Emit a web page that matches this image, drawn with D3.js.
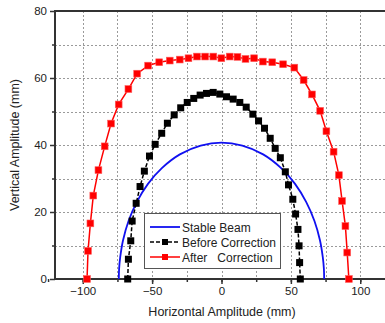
<!DOCTYPE html>
<html>
<head>
<meta charset="utf-8">
<script src="https://cdn.jsdelivr.net/npm/d3@7"></script>
<style>
body { margin: 0; background: #fff; }
svg { display: block; font-family: "Liberation Sans", Arial, sans-serif; }
</style>
</head>
<body>
<svg id="chart" width="385" height="323"></svg>
<script>
// values (mm)
var stableX = [-74, -73.8, -73, -71, -67, -61, -53, -43, -30, -15, 0, 15, 30, 43, 53, 61, 67, 71, 73, 73.8, 74];
var stableY = [0, 3, 6.5, 11.5, 17.3, 23, 28.4, 33.1, 37.2, 39.8, 40.7, 39.8, 37.2, 33.1, 28.4, 23, 17.3, 11.5, 6.5, 3, 0];

var beforeX = [-67.6, -67.1, -65.4, -64.4, -61.5, -58.7, -55.6, -51.9, -47.8, -43.1, -39.0, -34.1, -29.4, -24.7, -20.0, -15.4, -10.8, -6.0, -1.2, 3.6, 8.4, 13.2, 17.8, 22.6, 26.7, 31.0, 35.1, 38.7, 42.4, 46.0, 48.3, 51.4, 53.4, 55.1, 55.9, 56.3, 56.8];
var beforeY = [0, 5.9, 11.4, 17.3, 22.6, 27.6, 32.2, 36.7, 40.2, 43.5, 46.5, 49.0, 51.1, 52.7, 53.9, 54.9, 55.4, 55.7, 55.2, 54.4, 53.7, 52.7, 51.3, 49.2, 47.2, 45.0, 42.0, 39.0, 36.2, 32.0, 28.1, 23.8, 19.4, 14.8, 9.9, 4.9, 0];

var afterX = [-96.9, -96.2, -94.5, -92.4, -88.7, -84.2, -79.6, -74.1, -67.1, -60.8, -52.9, -44.9, -37.3, -30.1, -23.8, -17.7, -11.8, -5.9, -0.1, 5.9, 11.5, 17.3, 23.5, 29.8, 36.6, 44.4, 52.5, 59.2, 65.2, 71.1, 75.6, 80.8, 84.6, 86.9, 89.3, 90.6, 91.8];
var afterY = [0, 8.4, 16.6, 24.9, 32.5, 39.6, 46.4, 52.1, 56.7, 61.3, 63.7, 64.7, 65.2, 65.5, 65.9, 66.4, 66.4, 66.4, 65.9, 66.4, 66.3, 65.7, 65.9, 64.9, 64.7, 64.1, 63.1, 59.4, 55.1, 50.2, 44.1, 38.0, 31.0, 23.3, 15.8, 7.9, 0];

var xTicks = [-100, -50, 0, 50, 100];
var yTicks = [0, 20, 40, 60, 80];
var legendNames = ["Stable Beam", "Before Correction", "After\u00a0\u00a0\u00a0Correction"];

var svg = d3.select("#chart");
var axisColor = "#333";

var x = d3.scaleLinear().domain([-120, 120]).range([55, 388]);
var y = d3.scaleLinear().domain([0, 80]).range([279, 11]);

function zip(xs, ys) {
    return xs.map(function (v, i) { return [v, ys[i]]; });
}

// grid
var grid = svg.append("g")
    .attr("stroke", "#9a9a9a")
    .attr("stroke-width", 1)
    .attr("stroke-dasharray", "2,2");
d3.range(-100, 101, 25).forEach(function (v) {
    grid.append("line")
        .attr("x1", Math.round(x(v)) + 0.5).attr("x2", Math.round(x(v)) + 0.5)
        .attr("y1", y(80)).attr("y2", y(0));
});
d3.range(10, 80, 10).forEach(function (v) {
    grid.append("line")
        .attr("x1", x(-120)).attr("x2", x(120))
        .attr("y1", Math.round(y(v)) + 0.5).attr("y2", Math.round(y(v)) + 0.5);
});

// axes
var xAxisMinor = d3.axisBottom(x).tickValues(d3.range(-125, 126, 25)).tickSize(3).tickFormat("");
var xAxis = d3.axisBottom(x).tickValues(xTicks).tickSize(5).tickPadding(3);
var yAxisMinor = d3.axisLeft(y).tickValues(d3.range(10, 80, 20)).tickSize(3).tickFormat("");
var yAxis = d3.axisLeft(y).tickValues(yTicks).tickSize(5).tickPadding(3);

function styleAxis(g) {
    g.select(".domain").remove();
    g.selectAll("line").attr("stroke", axisColor).attr("stroke-width", 1.5);
    g.selectAll("text").attr("fill", "#222").style("font-size", "11.5px");
}

svg.append("g").attr("transform", "translate(0," + y(0) + ")").call(xAxisMinor).call(styleAxis);
svg.append("g").attr("transform", "translate(0," + y(0) + ")").call(xAxis).call(styleAxis);
svg.append("g").attr("transform", "translate(" + x(-120) + ",0)").call(yAxisMinor).call(styleAxis);
svg.append("g").attr("transform", "translate(" + x(-120) + ",0)").call(yAxis).call(styleAxis);

// frame
svg.append("rect")
    .attr("x", x(-120)).attr("y", y(80))
    .attr("width", x(120) - x(-120)).attr("height", y(0) - y(80))
    .attr("fill", "none").attr("stroke", axisColor).attr("stroke-width", 2);

// axis titles
svg.append("text")
    .attr("x", 222).attr("y", 316)
    .attr("text-anchor", "middle")
    .style("font-size", "12.5px").attr("fill", "#222")
    .text("Horizontal Amplitude (mm)");
svg.append("text")
    .attr("transform", "translate(19,145) rotate(-90)")
    .attr("text-anchor", "middle")
    .style("font-size", "12.5px").attr("fill", "#222")
    .text("Vertical Amplitude (mm)");

// series
var line = d3.line()
    .x(function (d) { return x(d[0]); })
    .y(function (d) { return y(d[1]); });

var smooth = d3.line()
    .x(function (d) { return x(d[0]); })
    .y(function (d) { return y(d[1]); })
    .curve(d3.curveCatmullRom);

svg.append("path")
    .attr("d", smooth(zip(stableX, stableY)))
    .attr("fill", "none").attr("stroke", "#1010f0").attr("stroke-width", 1.8);

svg.append("path")
    .attr("d", line(zip(beforeX, beforeY)))
    .attr("fill", "none").attr("stroke", "#000").attr("stroke-width", 1.5)
    .attr("stroke-dasharray", "4,2");

svg.append("g").selectAll("rect")
    .data(zip(beforeX, beforeY))
    .join("rect")
    .attr("x", function (d) { return x(d[0]) - 3.5; })
    .attr("y", function (d) { return y(d[1]) - 3.5; })
    .attr("width", 7).attr("height", 7)
    .attr("fill", "#000");

svg.append("path")
    .attr("d", line(zip(afterX, afterY)))
    .attr("fill", "none").attr("stroke", "#f00").attr("stroke-width", 1.5);

svg.append("g").selectAll("rect")
    .data(zip(afterX, afterY))
    .join("rect")
    .attr("x", function (d) { return x(d[0]) - 3.4; })
    .attr("y", function (d) { return y(d[1]) - 3.4; })
    .attr("width", 6.8).attr("height", 6.8)
    .attr("fill", "#f00").attr("stroke", "#ff5a5a").attr("stroke-width", 0.6);

// legend
var legend = svg.append("g");
legend.append("rect")
    .attr("x", 144.5).attr("y", 213.5).attr("width", 136).attr("height", 55)
    .attr("fill", "#fff").attr("stroke", "#555").attr("stroke-width", 1);

var legendColors = ["#1010f0", "#000", "#f00"];
legendNames.forEach(function (name, i) {
    var ly = 227 + i * 15;
    legend.append("line")
        .attr("x1", 150).attr("x2", 180).attr("y1", ly).attr("y2", ly)
        .attr("stroke", legendColors[i]).attr("stroke-width", i === 0 ? 1.8 : 1.5)
        .attr("stroke-dasharray", i === 1 ? "4,2" : null);
    if (i > 0) {
        legend.append("rect")
            .attr("x", 162).attr("y", ly - 3).attr("width", 6).attr("height", 6)
            .attr("fill", legendColors[i]);
    }
    legend.append("text")
        .attr("x", 182).attr("y", ly + 4.5)
        .style("font-size", "12px").attr("fill", "#222")
        .text(name);
});
</script>
</body>
</html>
